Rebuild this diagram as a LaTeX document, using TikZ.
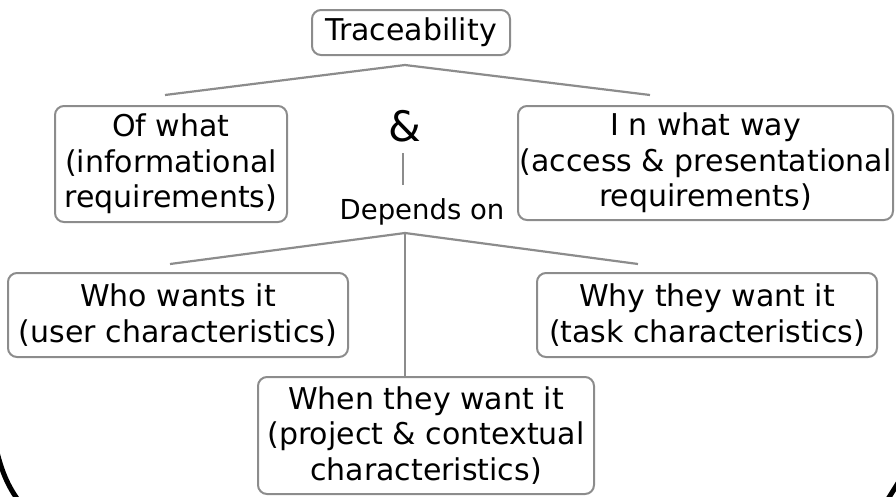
\documentclass[tikz,border=0pt]{standalone}
\usepackage{fontspec}
\setmainfont{DejaVu Sans}
\usepackage{xcolor}
\definecolor{boxgray}{RGB}{140, 140, 140}

\begin{document}
\begin{tikzpicture}[x=1pt, y=-1pt,
  every node/.style={font=\fontsize{30}{35.5}\selectfont, align=center, inner sep=0pt},
  topic/.style={draw=boxgray, line width=2pt, rounded corners=9pt},
  branch/.style={draw=boxgray, line width=2.2pt}]
  \useasboundingbox (0,0) rectangle (896,496);
  % boxes
  \node[topic, minimum width=198pt, minimum height=45pt] (trace) at (411,32.5) {Traceability};
  \node[topic, minimum width=232pt, minimum height=116pt] (ofwhat) at (171,164)
    {Of what\\(informational\\requirements)};
  \node[topic, minimum width=375pt, minimum height=114pt] (inway) at (705.5,163)
    {I n what way\\(access \& presentational\\requirements)};
  \node (amp) at (405,126) {\fontsize{42}{42}\selectfont\&};
  \node (dep) at (422,212) {\fontsize{27.5}{30}\selectfont Depends on};
  \node[topic, minimum width=340pt, minimum height=84pt] (who) at (178,315)
    {Who wants it\\(user characteristics)};
  \node[topic, minimum width=340pt, minimum height=84pt] (why) at (707,315)
    {Why they want it\\(task characteristics)};
  \node[topic, minimum width=336pt, minimum height=117pt] (when) at (426,435.5)
    {When they want it\\(project \& contextual\\characteristics)};
  % connectors
  \coordinate (top) at (405,65);
  \coordinate (topl) at (165,95);
  \coordinate (topr) at (650,95);
  \coordinate (ampb) at (403,153);
  \coordinate (dept) at (403,185);
  \coordinate (mid) at (405,233);
  \coordinate (midl) at (170,264);
  \coordinate (midr) at (638,264);
  \draw[branch] (topl) -- (top) -- (topr);
  \draw[branch] (ampb) -- (dept);
  \draw[branch] (midl) -- (mid) -- (midr);
  \draw[branch] (mid) -- (when.north -| mid);
  % slide frame corners
  \draw[line width=5pt] (-3,452) .. controls (2,472) and (8,486) .. (18,500);
  \draw[line width=5pt] (898,483) -- (888,499);
\end{tikzpicture}
\end{document}
